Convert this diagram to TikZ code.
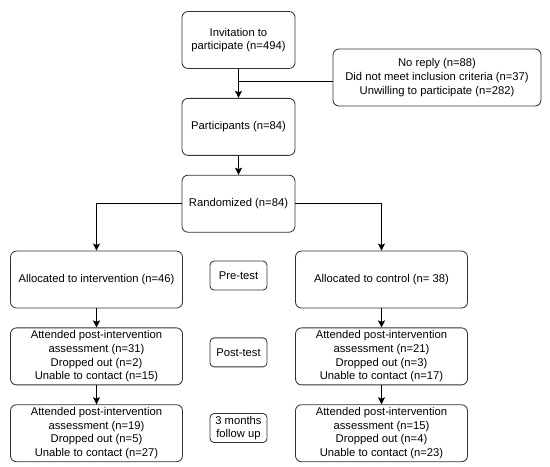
\documentclass[tikz,border=0pt]{standalone}
\usepackage{fontspec}
\setmainfont{Liberation Sans}
\usetikzlibrary{positioning, arrows.meta}

\begin{document}
\begin{tikzpicture}[
    node distance=0.475cm,
    every node/.style={font=\fontsize{8}{9.7}\selectfont},
    block/.style={rectangle, draw=black!80, line width=0.6pt, rounded corners=0.15cm, align=center, minimum width=2.825cm, minimum height=1.425cm, inner xsep=1pt, inner ysep=0pt},
    wide/.style={block, minimum width=4.3cm},
    excl/.style={block, minimum width=5.2cm},
    phase/.style={block, minimum width=1.425cm, minimum height=0.725cm, rounded corners=0.1cm},
    arrow/.style={-{Stealth[length=5pt, width=5pt, inset=1pt]}, line width=0.8pt}
]
\useasboundingbox (0,0) rectangle (13.75,-11.65);

% Enrolment
\node[block] (invite) at (5.9625,-1.0) {Invitation to\\participate (n=494)};
\node[block, below=0.725cm of invite] (part) {Participants (n=84)};
\node[excl] (excl) at (10.925,-1.9375) {No reply (n=88)\\Did not meet inclusion criteria (n=37)\\Unwilling to participate (n=282)};
\node[block, below=of part] (rand) {Randomized (n=84)};

% Allocation
\node[wide, below=0.45cm of rand, xshift=-3.55cm] (alloci) {Allocated to intervention (n=46)};
\node[wide, below=0.45cm of rand, xshift=3.575cm] (allocc) {Allocated to control (n= 38)};
\node[phase, yshift=0.1cm] (pre) at (rand |- alloci) {Pre-test};

% Post-test
\node[wide, below=of alloci] (posti) {Attended post-intervention\\assessment (n=31)\\Dropped out (n=2)\\Unable to contact (n=15)};
\node[wide, below=of allocc] (postc) {Attended post-intervention\\assessment (n=21)\\Dropped out (n=3)\\Unable to contact (n=17)};
\node[phase, yshift=0.1cm] (post) at (rand |- posti) {Post-test};

% Follow up
\node[wide, below=of posti] (fui) {Attended post-intervention\\assessment (n=19)\\Dropped out (n=5)\\Unable to contact (n=27)};
\node[wide, below=of postc] (fuc) {Attended post-intervention\\assessment (n=15)\\Dropped out (n=4)\\Unable to contact (n=23)};
\node[phase, yshift=0.13cm] (fu) at (rand |- fui) {3 months\\follow up};

% Arrows
\draw[arrow] (invite) -- (part);
\draw[line width=0.8pt] ([yshift=-0.09cm]excl.west) -- ([yshift=-0.09cm]excl.west -| invite.south);
\draw[arrow] (part) -- (rand);
\draw[arrow] (rand.west) -| (alloci);
\draw[arrow] (rand.east) -| (allocc);
\draw[arrow] (alloci) -- (posti);
\draw[arrow] (allocc) -- (postc);
\draw[arrow] (posti) -- (fui);
\draw[arrow] (postc) -- (fuc);
\end{tikzpicture}
\end{document}
